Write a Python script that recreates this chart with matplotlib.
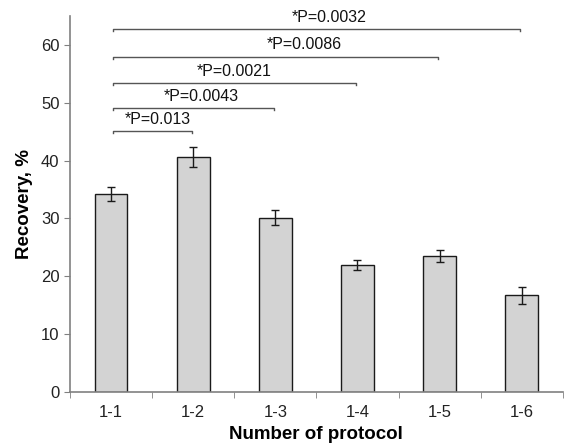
import numpy as np
import matplotlib
matplotlib.use('Agg')
import matplotlib.pyplot as plt

plt.rcParams['font.family'] = ['Liberation Sans', 'DejaVu Sans']

protocols = ['1-1', '1-2', '1-3', '1-4', '1-5', '1-6']
recovery = [34.3, 40.6, 30.1, 22.0, 23.5, 16.7]
errors = [1.2, 1.7, 1.3, 0.9, 1.1, 1.5]

# comparisons of 1-1 against the others
comp_to = [1, 2, 3, 4, 5]
comp_p = ['*P=0.013', '*P=0.0043', '*P=0.0021', '*P=0.0086', '*P=0.0032']
comp_y = [45.2, 49.1, 53.4, 58.0, 62.8]
label_x = [0.57, 1.1, 1.5, 2.35, 2.65]


def main():
    fig = plt.figure(figsize=(5.64, 4.45), dpi=100)
    ax = fig.add_axes([0.124, 0.119, 0.874, 0.845])

    x = np.arange(len(protocols))
    ax.bar(x, recovery, width=0.4, color='#d3d3d3', edgecolor='#1a1a1a', linewidth=1.0, zorder=2)
    ax.errorbar(x, recovery, yerr=errors, fmt='none', ecolor='#1a1a1a', elinewidth=1.0,
                capsize=3, capthick=1.0, zorder=3)

    for to, p, yb, lx in zip(comp_to, comp_p, comp_y, label_x):
        ax.plot([0.02, 0.02, to - 0.02, to - 0.02], [yb - 0.4, yb, yb, yb - 0.4],
                color='#555555', linewidth=1.0, zorder=1)
        ax.text(lx, yb + 0.7, p, ha='center', va='bottom', fontsize=11.5, color='#111111')

    ax.set_xlim(-0.5, 5.5)
    ax.set_ylim(0, 65)
    ax.set_yticks(np.arange(0, 61, 10))
    ax.set_xticks(x)
    ax.set_xticklabels(protocols)
    ax.set_xticks(np.arange(-0.5, 5.6, 1), minor=True)
    ax.tick_params(axis='x', which='major', length=0, pad=9, labelsize=12, colors='#222222')
    ax.tick_params(axis='x', which='minor', length=4, color='#808080', direction='out')
    ax.tick_params(axis='y', length=4, color='#808080', labelsize=12, labelcolor='#222222')

    for s in ['top', 'right']:
        ax.spines[s].set_visible(False)
    for s in ['left', 'bottom']:
        ax.spines[s].set_color('#808080')
        ax.spines[s].set_linewidth(1.2)

    ax.set_ylabel('Recovery, %', fontsize=13.5, fontweight='bold', labelpad=6)
    ax.set_xlabel('Number of protocol', fontsize=13.5, fontweight='bold', labelpad=5)

    fig.savefig('out.png', dpi=100)


if __name__ == '__main__':
    main()
